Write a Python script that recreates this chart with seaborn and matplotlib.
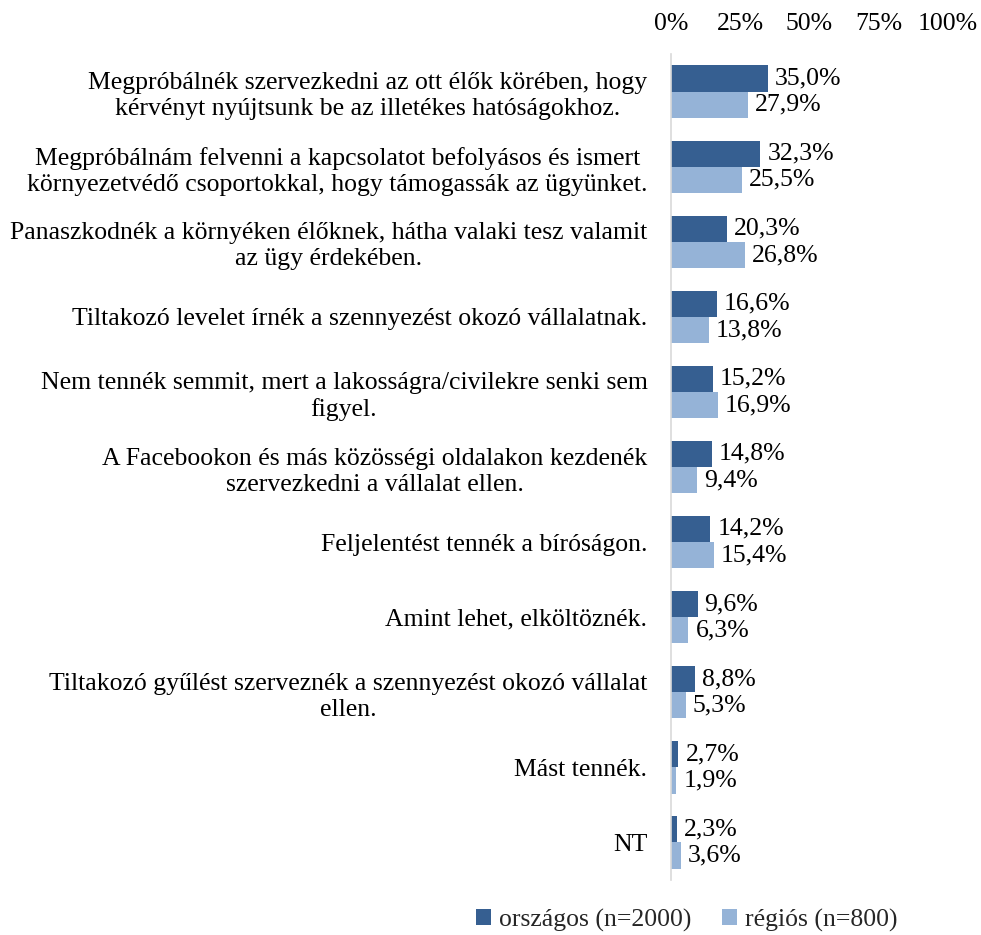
import matplotlib
matplotlib.use("Agg")
import matplotlib.pyplot as plt
import seaborn as sns
import pandas as pd

categories = [
    "Megpróbálnék szervezkedni az ott élők körében, hogy\nkérvényt nyújtsunk be az illetékes hatóságokhoz.",
    "Megpróbálnám felvenni a kapcsolatot befolyásos és ismert\nkörnyezetvédő csoportokkal, hogy támogassák az ügyünket.",
    "Panaszkodnék a környéken élőknek, hátha valaki tesz valamit\naz ügy érdekében.",
    "Tiltakozó levelet írnék a szennyezést okozó vállalatnak.",
    "Nem tennék semmit, mert a lakosságra/civilekre senki sem\nfigyel.",
    "A Facebookon és más közösségi oldalakon kezdenék\nszervezkedni a vállalat ellen.",
    "Feljelentést tennék a bíróságon.",
    "Amint lehet, elköltöznék.",
    "Tiltakozó gyűlést szerveznék a szennyezést okozó vállalat\nellen.",
    "Mást tennék.",
    "NT",
]
series_names = ["országos (n=2000)", "régiós (n=800)"]
orszagos = [35.0, 32.3, 20.3, 16.6, 15.2, 14.8, 14.2, 9.6, 8.8, 2.7, 2.3]
regios = [27.9, 25.5, 26.8, 13.8, 16.9, 9.4, 15.4, 6.3, 5.3, 1.9, 3.6]
x_ticks = [0, 25, 50, 75, 100]
colors = ["#365F91", "#95B3D7"]

df = pd.DataFrame({
    "cat": categories * 2,
    "series": [series_names[0]] * len(categories) + [series_names[1]] * len(categories),
    "value": orszagos + regios,
})

sns.set_theme(style="white")
plt.rcParams["font.family"] = ["Liberation Serif", "DejaVu Serif"]
FS = 18.5

fig = plt.figure(figsize=(9.81, 9.35), dpi=100)
ax = fig.add_axes([0.684, 0.059, 0.282, 0.883])

sns.barplot(data=df, y="cat", x="value", hue="series", orient="h",
            palette=colors, saturation=1, width=0.7, gap=0, linewidth=0, ax=ax,
            order=categories, hue_order=series_names, legend=True)

for cont in ax.containers:
    vals = [r.get_width() for r in cont]
    ax.bar_label(cont, labels=[f"{v:.1f}%".replace(".", ",") for v in vals],
                 padding=5, fontsize=FS, color="black")

ax.set_xlim(0, 100)
ax.set_ylim(len(categories) - 0.5, -0.5)
ax.xaxis.tick_top()
ax.set_xticks(x_ticks)
ax.set_xticklabels([f"{t}%" for t in x_ticks], fontsize=FS, color="black")
ax.set_yticks(range(len(categories)))
ax.set_yticklabels(categories, fontsize=FS, color="black",
                   multialignment="center", linespacing=1.24)
ax.tick_params(axis="x", length=0, pad=14)
ax.tick_params(axis="y", length=0, pad=17)
ax.set_xlabel("")
ax.set_ylabel("")
for s in ["top", "right", "bottom"]:
    ax.spines[s].set_visible(False)
ax.spines["left"].set_color("#D9D9D9")
ax.spines["left"].set_linewidth(1.2)

handles, labels = ax.get_legend_handles_labels()
ax.legend_.remove()
fig.legend(handles, labels, loc="center", bbox_to_anchor=(0.70, 0.016), ncol=2,
           frameon=False, fontsize=FS, handlelength=0.6, handleheight=0.6,
           handletextpad=0.3, columnspacing=1.2)

fig.savefig("out.png", dpi=100)
